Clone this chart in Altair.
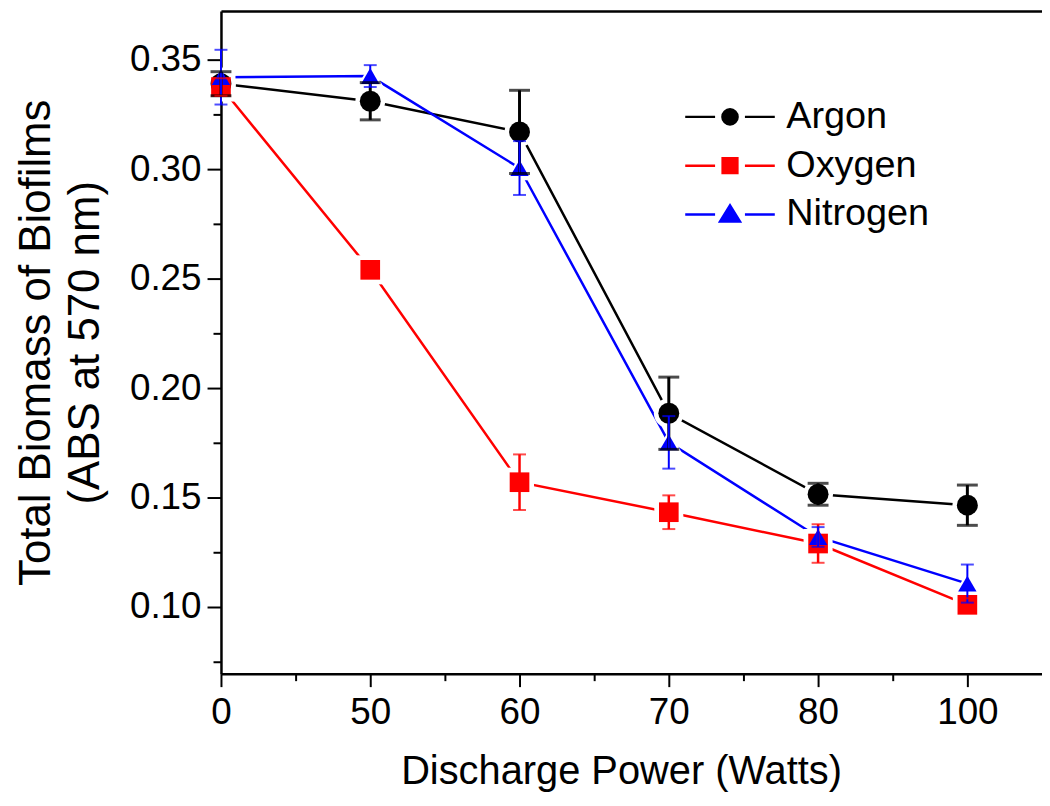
import altair as alt
import pandas as pd

# ---- data ----
gases = ["Argon", "Oxygen", "Nitrogen"]
colors = ["#000000", "#ff0000", "#0000ff"]
power_labels = ["0", "50", "60", "70", "80", "100"]

argon = [0.339, 0.331, 0.317, 0.1885, 0.1515, 0.1465]
argon_err = [0.0055, 0.0085, 0.019, 0.0165, 0.005, 0.0092]
oxygen = [0.3375, 0.254, 0.157, 0.1433, 0.129, 0.101]
oxygen_err = [0.004, 0.003, 0.0127, 0.0077, 0.0088, 0.003]
nitrogen = [0.342, 0.3425, 0.3005, 0.1752, 0.132, 0.1107]
nitrogen_err = [0.0125, 0.005, 0.0123, 0.012, 0.0045, 0.0087]

y_major = [0.10, 0.15, 0.20, 0.25, 0.30, 0.35]
y_minor = [0.075, 0.125, 0.175, 0.225, 0.275, 0.325]
x_major = [0, 1, 2, 3, 4, 5]
x_minor = [0.5, 1.5, 2.5, 3.5, 4.5]

rows = []
for gas, vals, errs in zip(gases, [argon, oxygen, nitrogen], [argon_err, oxygen_err, nitrogen_err]):
    for i, (v, e) in enumerate(zip(vals, errs)):
        rows.append({"gas": gas, "idx": i, "power": power_labels[i], "value": v, "err": e})
df = pd.DataFrame(rows)

FONT = "Liberation Sans"
label_expr = "[" + ",".join("'%s'" % p for p in power_labels) + "][round(datum.value)]"

xscale = alt.Scale(domain=[0, 5.5], nice=False, zero=False)
yscale = alt.Scale(domain=[0.06955, 0.37227], nice=False, zero=False)
color_scale = alt.Scale(domain=gases, range=colors)

ax_common = dict(grid=False, domainColor="black", tickColor="black", labelColor="black",
                 titleColor="black", labelFont=FONT, titleFont=FONT)

x_main_axis = alt.Axis(values=x_major, labelExpr=label_expr, title="Discharge Power (Watts)",
                       orient="bottom", domainWidth=2.5, tickWidth=2, tickSize=13,
                       labelFontSize=37, titleFontSize=40, titleFontWeight="normal",
                       labelPadding=8, titlePadding=21, titleX=402,
                       labelFlush=False, labelOverlap=False, **ax_common)
x_minor_axis = alt.Axis(values=x_minor, orient="bottom", labels=False, domain=False,
                        tickWidth=2, tickSize=7, title=None, **ax_common)
x_top_axis = alt.Axis(orient="top", labels=False, ticks=False, domain=True,
                      domainWidth=2.5, title=None, **ax_common)

y_main_axis = alt.Axis(values=y_major, format=".2f", orient="left", domainWidth=2.5,
                       tickWidth=2, tickSize=14, labelFontSize=37, labelPadding=6,
                       title=["Total Biomass of Biofilms", "(ABS at 570 nm)"],
                       titleFontSize=44, titleFontWeight="normal", titleLineHeight=49,
                       titleBaseline="middle", titleX=-185,
                       labelOverlap=False, **ax_common)
y_minor_axis = alt.Axis(values=y_minor, orient="left", labels=False, domain=False,
                        tickWidth=2, tickSize=8, title=None, **ax_common)

base = alt.Chart(df)
calc = base.transform_calculate(lo="datum.value - datum.err", hi="datum.value + datum.err")

lines = base.mark_line(strokeWidth=2.5).encode(
    x=alt.X("idx:Q", scale=xscale, axis=x_main_axis),
    y=alt.Y("value:Q", scale=yscale, axis=y_main_axis),
    color=alt.Color("gas:N", scale=color_scale, legend=None),
)

halo = base.mark_point(filled=True, fill="white", opacity=1).encode(
    x=alt.X("idx:Q", scale=xscale, axis=None),
    y=alt.Y("value:Q", scale=yscale, axis=None),
    shape=alt.Shape("gas:N", scale=alt.Scale(domain=gases, range=["circle", "square", "triangle-up"]), legend=None),
    size=alt.Size("gas:N", scale=alt.Scale(domain=gases, range=[900, 800, 1100]), legend=None),
)

points = base.mark_point(filled=True, opacity=1).encode(
    x=alt.X("idx:Q", scale=xscale, axis=None),
    y=alt.Y("value:Q", scale=yscale, axis=None),
    color=alt.Color("gas:N", scale=color_scale, legend=None),
    shape=alt.Shape("gas:N", scale=alt.Scale(domain=gases, range=["circle", "square", "triangle-up"]), legend=None),
    size=alt.Size("gas:N", scale=alt.Scale(domain=gases, range=[441, 340, 560]), legend=None),
)

rules = calc.mark_rule().encode(
    x=alt.X("idx:Q", scale=xscale, axis=x_minor_axis),
    y=alt.Y("lo:Q", scale=yscale, axis=y_minor_axis),
    y2="hi:Q",
    color=alt.Color("gas:N", scale=color_scale, legend=None),
    strokeWidth=alt.StrokeWidth("gas:N", scale=alt.Scale(domain=gases, range=[3, 2, 2]), legend=None),
)

caps_src = calc.transform_fold(["lo", "hi"], as_=["which", "capv"])
caps_black = caps_src.transform_filter(alt.datum.gas == gases[0]).mark_tick(
    orient="horizontal", thickness=3).encode(
    x=alt.X("idx:Q", scale=xscale, axis=x_top_axis),
    y=alt.Y("capv:Q", scale=yscale, axis=None),
    color=alt.Color("gas:N", scale=color_scale, legend=None),
    size=alt.value(21),
)
caps_color = caps_src.transform_filter(alt.datum.gas != gases[0]).mark_tick(
    orient="horizontal", thickness=2).encode(
    x=alt.X("idx:Q", scale=xscale, axis=None),
    y=alt.Y("capv:Q", scale=yscale, axis=None),
    color=alt.Color("gas:N", scale=color_scale, legend=None),
    size=alt.value(13),
)

wing = "M-2.25,0L-0.75,0M0.75,0L2.25,0"
legend_paths = [
    wing + "M-0.38,0A0.38,0.38,0,1,0,0.38,0A0.38,0.38,0,1,0,-0.38,0Z",
    wing + "M-0.37,-0.37L0.37,-0.37L0.37,0.37L-0.37,0.37Z",
    wing + "M0,-0.45L0.5,0.36L-0.5,0.36Z",
]

legend_def = alt.Legend(
    title=None, orient="none", legendX=490, legendY=85, padding=0,
    symbolSize=1600, symbolStrokeWidth=2.5, symbolOpacity=1,
    labelFontSize=38, labelFont=FONT, labelColor="black", labelOffset=35,
    rowPadding=8, symbolOffset=0)

ghost = base.mark_point(filled=True, opacity=0).encode(
    x=alt.X("idx:Q", scale=xscale, axis=None),
    y=alt.Y("value:Q", scale=yscale, axis=None),
    fill=alt.Fill("gas:N", scale=color_scale, legend=legend_def),
    stroke=alt.Stroke("gas:N", scale=color_scale, legend=legend_def),
    shape=alt.Shape("gas:N", scale=alt.Scale(domain=gases, range=legend_paths), legend=legend_def),
)

chart = alt.layer(lines, halo, points, rules, caps_black, caps_color, ghost).resolve_scale(
    color="independent", shape="independent", size="independent",
    stroke="independent", strokeWidth="independent", fill="independent",
).resolve_axis(x="independent", y="independent").properties(
    width=825, height=666,
    padding={"left": 214, "top": 1, "right": 0, "bottom": 120},
    autosize=alt.AutoSizeParams(type="none"),
    background="white",
).configure_view(stroke=None).configure(font=FONT)

chart.save("out.html", embed_options={"renderer": "svg", "actions": False})
